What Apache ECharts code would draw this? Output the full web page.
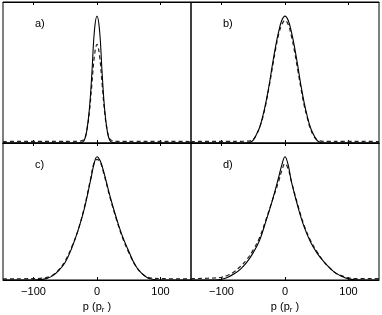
<!DOCTYPE html>
<html><head><meta charset="utf-8">
<script src="https://cdn.jsdelivr.net/npm/echarts@6/dist/echarts.min.js"></script>
<style>html,body{margin:0;padding:0;background:#fff}#c{width:382px;height:315px}</style>
</head><body><div id="c"></div>
<script>
// Panel a
const xA = [-148,-120,-90,-60,-40,-30,-25,-20,-16,-12,-8,-4,0,4,8,12,16,20,25,30,40,60,90,120,148];
const aSolid = [0,0,0,0,0,0,0.003,0.02,0.09,0.24,0.50,0.80,0.90,0.80,0.50,0.24,0.09,0.02,0.003,0,0,0,0,0,0];
const aDash  = [0.01,0.012,0.012,0.012,0.012,0.012,0.015,0.03,0.09,0.22,0.42,0.62,0.70,0.62,0.42,0.22,0.09,0.03,0.015,0.012,0.012,0.012,0.012,0.012,0.01];
// Panel b
const xB = [-148,-120,-90,-70,-60,-55,-50,-45,-40,-35,-30,-25,-20,-15,-10,-5,0,5,10,15,20,25,30,35,40,45,50,55,60,70,90,120,148];
const bSolid = [0,0,0,0,0,0.005,0.02,0.06,0.11,0.19,0.29,0.41,0.55,0.68,0.79,0.87,0.90,0.87,0.79,0.68,0.55,0.41,0.29,0.19,0.11,0.06,0.02,0.005,0,0,0,0,0];
const bDash  = [0.01,0.012,0.012,0.012,0.013,0.015,0.025,0.06,0.11,0.18,0.28,0.40,0.53,0.66,0.77,0.84,0.87,0.84,0.76,0.65,0.52,0.39,0.27,0.18,0.10,0.05,0.025,0.015,0.012,0.012,0.012,0.012,0.01];
// Panel c
const xC = [-148,-100,-90,-80,-70,-60,-50,-40,-30,-20,-10,-5,0,5,10,20,30,40,50,60,70,80,90,100,148];
const cSolid = [0,0,0.003,0.01,0.03,0.07,0.13,0.23,0.36,0.52,0.73,0.84,0.90,0.87,0.80,0.62,0.46,0.32,0.21,0.11,0.05,0.015,0.004,0,0];
const cDash  = [0.008,0.01,0.012,0.018,0.035,0.075,0.14,0.24,0.36,0.53,0.74,0.85,0.88,0.86,0.79,0.61,0.45,0.31,0.20,0.11,0.05,0.02,0.012,0.01,0.008];
// Panel d
const xD = [-148,-110,-100,-90,-80,-70,-60,-50,-40,-30,-20,-10,-5,0,5,10,20,30,40,50,60,70,80,90,100,110,148];
const dSolid = [0,0,0.005,0.02,0.045,0.08,0.13,0.20,0.29,0.43,0.58,0.75,0.84,0.90,0.84,0.72,0.54,0.39,0.28,0.20,0.14,0.09,0.05,0.025,0.008,0.002,0];
const dDash  = [0.01,0.015,0.02,0.035,0.06,0.10,0.15,0.22,0.31,0.44,0.58,0.72,0.80,0.85,0.81,0.72,0.55,0.40,0.29,0.21,0.14,0.09,0.05,0.03,0.015,0.01,0.01];
const tickVals = [-100, 0, 100];
const panelLabels = ['a)','b)','c)','d)'];

const xs = [xA, xB, xC, xD];
const solids = [aSolid, bSolid, cSolid, dSolid];
const dashes = [aDash, bDash, cDash, dDash];
const grids = [
  {left:3, top:2, width:188, height:141},
  {left:191, top:2, width:188, height:141},
  {left:3, top:143, width:188, height:141},
  {left:191, top:143, width:188, height:141}
];
const FONT = 'Liberation Sans, Arial, sans-serif';
const xAxis = [], yAxis = [], series = [], graphic = [];
grids.forEach((g, i) => {
  g.show = true; g.borderColor = '#000'; g.borderWidth = 1; g.containLabel = false;
  const bottomRow = i >= 2;
  xAxis.push({
    type:'value', gridIndex:i, min:-148, max:148, position:'bottom',
    axisLine:{show:true, onZero:false, lineStyle:{color:'#000', width:1}},
    axisTick:{show:true, inside:true, length:3, customValues:tickVals, lineStyle:{color:'#000'}},
    axisLabel:{show:bottomRow, customValues:tickVals, color:'#000', fontSize:11, fontFamily:FONT, margin:6,
      formatter:v => String(v).replace('-', '\u2212')},
    splitLine:{show:false},
    name: bottomRow ? 'p (p{s|r} )' : '', nameLocation:'middle', nameGap:20,
    nameTextStyle:{color:'#000', fontSize:11, fontFamily:FONT, rich:{s:{fontSize:8, fontFamily:FONT, color:'#000', verticalAlign:'bottom', padding:[6,0,0,0]}}}
  });
  xAxis.push({
    type:'value', gridIndex:i, min:-148, max:148, position:'top',
    axisLine:{show:true, onZero:false, lineStyle:{color:'#000', width:1}},
    axisTick:{show:true, inside:true, length:3, customValues:tickVals, lineStyle:{color:'#000'}},
    axisLabel:{show:false}, splitLine:{show:false}
  });
  yAxis.push({type:'value', gridIndex:i, min:0, max:1, position:'left',
    axisLine:{show:false, onZero:false}, axisTick:{show:false}, axisLabel:{show:false}, splitLine:{show:false}});
  series.push({type:'line', xAxisIndex:2*i, yAxisIndex:i, data: xs[i].map((x,k)=>[x, dashes[i][k]]),
    showSymbol:false, smooth:0.4, lineStyle:{color:'#222', width:1.2, type:[4,3]}, z:2, silent:true});
  series.push({type:'line', xAxisIndex:2*i, yAxisIndex:i, data: xs[i].map((x,k)=>[x, solids[i][k]]),
    showSymbol:false, smooth:0.4, lineStyle:{color:'#000', width:1.1}, z:3, silent:true});
  graphic.push({type:'text', left: g.left + 32, top: g.top + 16,
    style:{text: panelLabels[i], fill:'#000', font:'11px ' + FONT}});
});
const chart = echarts.init(document.getElementById('c'), null, {renderer:'canvas'});
chart.setOption({animation:false, backgroundColor:'#fff', grid:grids, xAxis, yAxis, series, graphic});
</script></body></html>
